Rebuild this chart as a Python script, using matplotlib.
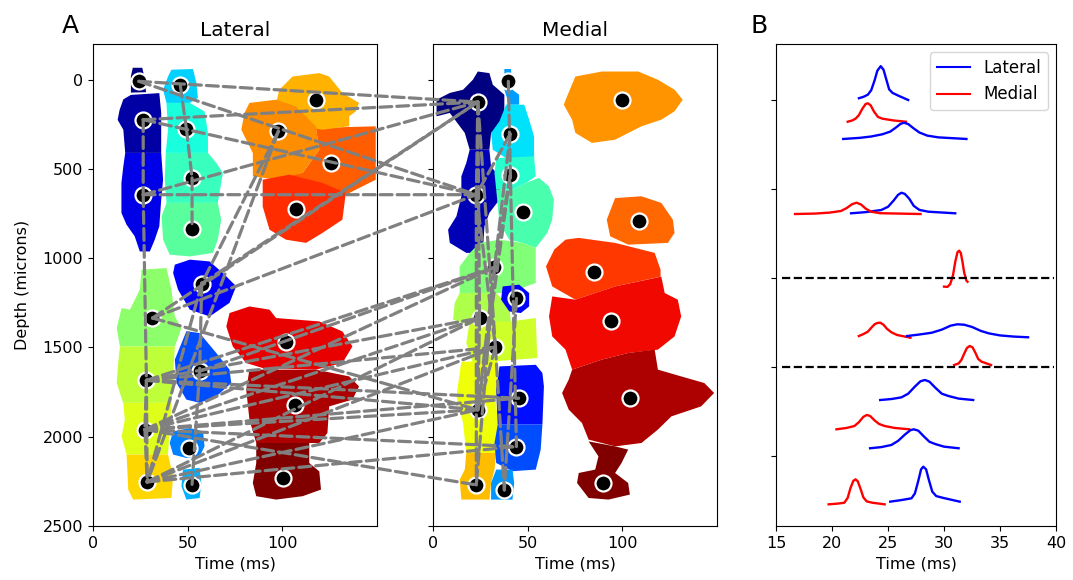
import numpy as np
import matplotlib
matplotlib.use('Agg')
import matplotlib.pyplot as plt
from matplotlib.patches import ConnectionPatch

plt.rcParams['font.size'] = 11.5

# ---- panel A: cluster dots (time ms, depth microns)
lat_x = [24.2, 26.5, 26.5, 46.1, 49.3, 52.3, 52.3, 117.7, 97.9, 125.6, 107.2,
         57.4, 31.4, 56.3, 28.2, 101.9, 106.7, 27.4, 50.5, 28.6, 52.3, 100.5]
lat_y = [9, 224, 644, 32, 274, 550, 834, 116, 289, 467, 724,
         1142, 1335, 1633, 1684, 1471, 1820, 1960, 2063, 2253, 2268, 2231]
med_x = [39.8, 23.7, 40.8, 40.8, 47.3, 22.9, 100, 108.9, 32.5, 84.8, 44.1,
         24.6, 33.0, 94.1, 104, 45.2, 23.7, 44.1, 22.9, 37.7, 89.7]
med_y = [9, 125, 304, 536, 741, 644, 116, 790, 1051, 1077, 1225,
         1335, 1498, 1349, 1784, 1784, 1849, 2055, 2270, 2298, 2257]

# cluster outlines: (jet value, x, y)
lat_blobs = [
    (0.0, [21, 26, 27, 28, 20, 20], [-67, -67, -20, 70, 72, -20]),
    (0.035, [20, 35, 36, 36, 17, 16, 13, 14, 16], [85, 75, 185, 410, 410, 280, 225, 170, 110]),
    (0.09, [17, 36, 37, 36, 35, 32.6, 30, 24.7, 22, 17.7, 15, 15, 16],
     [410, 410, 560, 672, 821, 896, 962, 962, 877, 812, 746, 578, 485]),
    (0.52, [25.6, 38.8, 41.4, 43.2, 46.7, 43.2, 14.2, 12.5, 15.1, 19.5, 24.7],
     [1064, 1055, 1176, 1326, 1391, 1494, 1494, 1391, 1279, 1288, 1176]),
    (0.58, [14.2, 43.2, 42.3, 41.4, 15.9, 12.5, 13.3], [1494, 1494, 1662, 1810, 1810, 1699, 1587]),
    (0.62, [15.9, 41.4, 40.5, 39.6, 17.7, 15.1, 16.8], [1810, 1810, 1960, 2100, 2100, 1998, 1904]),
    (0.68, [17.7, 39.6, 42.3, 41.4, 21.2, 18.6, 18.1], [2100, 2100, 2221, 2343, 2352, 2296, 2184]),
    (0.33, [41.4, 52.8, 54.6, 55.4, 51.1, 38.8, 37, 39.6], [-56, -60, 18, 102, 130, 130, 56, -18]),
    (0.38, [38.8, 51.1, 58.9, 60.7, 60.7, 38.4, 39.6], [130, 130, 178, 298, 410, 410, 280]),
    (0.42, [38.4, 60.7, 65.1, 68.6, 66.8, 65.9, 38.8, 37.9], [410, 410, 466, 522, 634, 690, 690, 560]),
    (0.46, [38.8, 65.9, 67.7, 65.9, 63.3, 51.1, 40.5, 37, 36.2],
     [690, 690, 784, 896, 970, 990, 980, 896, 765]),
    (0.12, [43.2, 51.1, 61.6, 68.6, 75.6, 72.1, 61.6, 51.1, 44.9, 42.3],
     [1036, 1008, 1018, 1083, 1157, 1250, 1326, 1288, 1176, 1083]),
    (0.2, [49.3, 56.3, 65.1, 72.1, 73, 65.1, 56.3, 49.3, 44.1, 43.2],
     [1409, 1419, 1531, 1624, 1699, 1774, 1810, 1792, 1699, 1568]),
    (0.25, [42.3, 51.1, 58.1, 58.9, 56.3, 49.3, 42.3, 40.5], [1970, 1951, 1970, 2054, 2110, 2119, 2100, 2035]),
    (0.3, [47.5, 56.3, 57.2, 56.3, 49.3, 46.7], [2184, 2174, 2259, 2343, 2352, 2278]),
    (0.81, [117.7, 149.3, 149.3, 138.8, 131.7, 112.5, 98.4, 110.7, 119.5],
     [270, 261, 560, 616, 654, 635, 541, 522, 392]),
    (0.72, [105.4, 119.5, 124.7, 131.7, 140.5, 138.8, 135.3, 135.3, 121.2, 110.7, 96.7, 98.4],
     [-18, -37, -18, 74, 130, 177, 205, 261, 280, 261, 130, 56]),
    (0.76, [82.6, 96.7, 107.2, 117.7, 119.5, 110.7, 96.7, 84.4, 84.4, 78.3, 80],
     [130, 112, 150, 261, 392, 522, 560, 541, 411, 280, 186]),
    (0.86, [89.6, 103.7, 121.2, 133.5, 131.7, 121.2, 112.5, 101.9, 93.2, 89.6],
     [560, 532, 578, 634, 784, 858, 914, 896, 840, 710]),
    (0.91, [72.1, 82.6, 93.2, 96.7, 119.5, 131.7, 137, 131.7, 117.7, 89.6, 80.9, 73.8, 70.4],
     [1307, 1270, 1288, 1335, 1354, 1410, 1494, 1587, 1624, 1615, 1587, 1494, 1382]),
    (0.96, [82.6, 117.7, 135.3, 140.5, 137, 124.7, 123.8, 119.5, 86.2, 82.6, 80.9],
     [1624, 1624, 1662, 1718, 1792, 1830, 1979, 2035, 2035, 1904, 1736]),
    (1.0, [86.2, 114.2, 114.2, 119.5, 120.4, 110.7, 96.7, 86.2, 84.4, 86.2],
     [2035, 2035, 2147, 2194, 2296, 2333, 2352, 2333, 2259, 2147]),
]

med_blobs = [
    (0.0, [23.7, 29.8, 31.6, 37.7, 37.7, 30.7, 29.8, 19.4, 16.8, 8.9, 1.9, 1.9, 8.9, 15.9, 21.1],
     [-46, -37, 28, 84, 261, 298, 392, 392, 298, 186, 205, 112, 74, 56, 0]),
    (0.047, [19.4, 29.8, 30.7, 36, 35.1, 29.8, 27.2, 26.3, 17.6, 8.9, 8, 12.4, 15, 15, 17.6],
     [392, 392, 485, 560, 672, 746, 821, 970, 970, 914, 840, 765, 653, 541, 466]),
    (0.28, [37.7, 41.2, 42, 45.5, 45.5, 40.3, 37.7], [-60, -60, 56, 84, 140, 140, 56]),
    (0.345, [38.6, 48.2, 50.8, 53.4, 53.4, 38.6, 31.6, 30.7, 35.1], [140, 140, 224, 318, 439, 439, 392, 298, 233]),
    (0.4, [33.4, 53.4, 54.3, 49.1, 42, 33.4, 32.5], [439, 429, 541, 578, 616, 616, 522]),
    (0.44, [49.1, 56, 61.3, 63.9, 63, 60.4, 54.3, 47.3, 40.3, 35.1, 33.4, 42],
     [578, 550, 598, 672, 784, 858, 942, 914, 896, 802, 616, 616]),
    (0.505, [24.6, 35.1, 47.3, 54.3, 54.3, 49.1, 42, 14.1, 14.1, 19.4],
     [914, 896, 914, 942, 1139, 1158, 1195, 1195, 1046, 971]),
    (0.56, [14.1, 33.4, 40.3, 41.2, 36.8, 21.1, 10.6, 11.5], [1195, 1195, 1270, 1363, 1391, 1382, 1344, 1251]),
    (0.6, [19.4, 41.2, 54.3, 55.1, 43.8, 21.1, 17.6], [1354, 1354, 1335, 1559, 1568, 1587, 1475]),
    (0.64, [15, 34.2, 33.4, 34.2, 33.4, 17.6, 15.9, 12.4], [1580, 1575, 1811, 1923, 2091, 2091, 1923, 1774]),
    (0.71, [17.6, 33.4, 32.5, 30.7, 29.8, 15, 14.1, 16.8], [2091, 2091, 2184, 2259, 2352, 2352, 2240, 2184]),
    (0.12, [36.8, 45.5, 50.8, 50.8, 46.4, 40.3, 36], [1158, 1148, 1195, 1270, 1307, 1298, 1232]),
    (0.14, [35.1, 54.3, 57.8, 58.6, 57.8, 34.2, 33.4], [1606, 1597, 1643, 1718, 1932, 1932, 1736]),
    (0.2, [34.2, 57.8, 56.9, 54.3, 42, 33.4, 32.5], [1932, 1932, 2072, 2184, 2193, 2147, 2035]),
    (0.27, [33.4, 42, 42.9, 42, 30.7, 30.7], [2184, 2184, 2259, 2352, 2352, 2259]),
    (0.75, [75.2, 89.2, 108.4, 118.8, 127.6, 131.9, 127.6, 120.6, 110.1, 96.2, 84, 75.2, 73.5, 69.1, 70.8],
     [-18, -46, -46, 0, 56, 112, 177, 224, 261, 336, 354, 298, 224, 140, 94]),
    (0.8, [96.2, 110.1, 120.6, 126.7, 127.6, 124.1, 103.1, 93.6, 91.8], [663, 653, 690, 784, 858, 914, 924, 877, 784]),
    (0.85, [70, 76.9, 96.2, 117.1, 120.2, 120.2, 96.2, 75.2, 63, 59.7, 64.1],
     [896, 886, 914, 970, 1064, 1103, 1158, 1232, 1158, 1046, 951]),
    (0.9, [63, 75.2, 96.2, 120.6, 122.4, 129.3, 131.1, 127.6, 118.8, 103.1, 89.2, 73.5, 70, 63, 61.3],
     [1214, 1232, 1158, 1103, 1195, 1232, 1326, 1438, 1512, 1531, 1568, 1624, 1512, 1438, 1326]),
    (0.96, [73.5, 89.2, 103.1, 117.1, 118.8, 131.1, 143.3, 148.5, 141.6, 125.9, 118.8, 110.1, 96.2, 82.2, 78.7, 71.7, 68.2, 71.7],
     [1624, 1568, 1531, 1512, 1624, 1662, 1699, 1755, 1830, 1886, 1960, 2035, 2054, 2016, 1923, 1848, 1755, 1680]),
    (1.0, [82.2, 96.2, 103.1, 99.6, 96.2, 103.1, 104, 92.7, 82.2, 76.1, 77, 85.7, 87.4],
     [2026, 2054, 2072, 2147, 2203, 2259, 2324, 2352, 2343, 2259, 2203, 2184, 2110]),
]

# connections (index pairs)
lat_lat = [(1, 2), (2, 14), (14, 17), (17, 19), (14, 19), (3, 4), (4, 5), (5, 6),
           (11, 19), (8, 11), (8, 19), (11, 13), (13, 20)]
lat_med = [(0, 1), (1, 1), (2, 1), (11, 1), (12, 1), (0, 5), (1, 5), (2, 5), (12, 5),
           (13, 8), (14, 8), (17, 8), (14, 11), (17, 11), (19, 11), (14, 12), (17, 12),
           (19, 12), (12, 16), (14, 15), (14, 16), (17, 15), (17, 16), (19, 16),
           (17, 17), (19, 17), (17, 18)]
med_med = [(1, 5), (1, 11), (1, 12), (5, 16), (5, 18), (0, 17), (2, 5), (2, 8), (3, 8),
           (5, 12), (3, 16), (8, 16), (11, 16), (12, 16), (8, 18), (10, 19), (12, 19)]

# ---- panel B: waveforms
b_lines = [
    ('blue', [22.4, 22.8, 23.2, 23.5, 23.8, 24.05, 24.35, 24.6, 24.85, 25.1, 25.4, 25.9, 26.8],
     [5.02, 5.035, 5.06, 5.11, 5.22, 5.33, 5.38, 5.34, 5.23, 5.12, 5.08, 5.05, 5.00]),
    ('red', [21.4, 21.8, 22.1, 22.4, 22.7, 23.0, 23.2, 23.45, 23.75, 24.1, 24.5, 25.5, 26.6],
     [4.756, 4.77, 4.79, 4.83, 4.9, 4.955, 4.963, 4.94, 4.87, 4.81, 4.79, 4.77, 4.756]),
    ('blue', [21.0, 22.5, 23.5, 24.5, 25.2, 25.7, 26.1, 26.4, 26.8, 27.3, 27.8, 28.5, 29.5, 32.0],
     [4.562, 4.575, 4.59, 4.615, 4.645, 4.69, 4.73, 4.745, 4.73, 4.68, 4.635, 4.6, 4.58, 4.562]),
    ('blue', [21.7, 23.0, 24.4, 25.0, 25.5, 25.9, 26.2, 26.5, 26.9, 27.3, 27.8, 28.6, 31.0],
     [3.727, 3.74, 3.764, 3.80, 3.87, 3.935, 3.958, 3.945, 3.89, 3.81, 3.765, 3.745, 3.727]),
    ('red', [16.7, 18.5, 19.8, 20.8, 21.3, 21.8, 22.2, 22.6, 23.0, 23.5, 24.3, 27.9],
     [3.719, 3.724, 3.735, 3.753, 3.785, 3.83, 3.846, 3.825, 3.78, 3.745, 3.728, 3.719]),
    ('red', [30.0, 30.3, 30.55, 30.8, 31.0, 31.2, 31.35, 31.5, 31.65, 31.8, 32.0, 32.1],
     [2.903, 2.9, 2.93, 3.03, 3.18, 3.29, 3.307, 3.28, 3.18, 3.06, 2.97, 2.958]),
    ('red', [22.4, 22.8, 23.2, 23.5, 23.8, 24.05, 24.3, 24.6, 24.9, 25.3, 25.8, 27.0],
     [2.348, 2.37, 2.397, 2.44, 2.48, 2.495, 2.498, 2.475, 2.43, 2.39, 2.36, 2.329]),
    ('blue', [26.7, 27.8, 28.9, 29.8, 30.6, 31.2, 31.8, 32.5, 33.3, 34.0, 35.0, 36.2, 37.5],
     [2.348, 2.365, 2.385, 2.42, 2.465, 2.48, 2.475, 2.45, 2.405, 2.378, 2.355, 2.342, 2.334]),
    ('red', [30.9, 31.3, 31.55, 31.8, 32.05, 32.3, 32.55, 32.8, 33.05, 33.35, 33.8, 34.2],
     [2.022, 2.04, 2.079, 2.15, 2.215, 2.236, 2.22, 2.16, 2.09, 2.06, 2.04, 2.022]),
    ('blue', [24.3, 25.3, 26.2, 26.8, 27.4, 27.9, 28.3, 28.7, 29.2, 29.8, 30.4, 31.3, 32.6],
     [1.629, 1.64, 1.659, 1.7, 1.78, 1.84, 1.854, 1.835, 1.77, 1.7, 1.674, 1.645, 1.629]),
    ('red', [20.4, 21.3, 22.0, 22.4, 22.8, 23.1, 23.4, 23.8, 24.2, 24.7, 25.6, 26.9],
     [1.3, 1.315, 1.337, 1.38, 1.44, 1.461, 1.45, 1.4, 1.36, 1.337, 1.315, 1.3]),
    ('blue', [23.4, 24.4, 25.3, 25.9, 26.5, 27.0, 27.3, 27.7, 28.2, 28.7, 29.2, 30.0, 31.3],
     [1.087, 1.1, 1.124, 1.17, 1.24, 1.29, 1.30, 1.285, 1.22, 1.16, 1.135, 1.105, 1.087]),
    ('red', [19.7, 20.5, 21.1, 21.4, 21.65, 21.9, 22.1, 22.3, 22.55, 22.8, 23.1, 23.6, 24.7],
     [0.457, 0.465, 0.475, 0.53, 0.64, 0.72, 0.738, 0.715, 0.63, 0.535, 0.49, 0.475, 0.457]),
    ('blue', [25.2, 26.2, 27.1, 27.4, 27.7, 27.95, 28.15, 28.4, 28.65, 28.95, 29.3, 29.9, 31.4],
     [0.487, 0.505, 0.525, 0.58, 0.72, 0.85, 0.88, 0.85, 0.73, 0.6, 0.55, 0.53, 0.487]),
]
b_dashed = [3, 2]

fig = plt.figure(figsize=(10.73, 5.8), dpi=100)
ax1 = fig.add_axes([0.0867, 0.0931, 0.2647, 0.831])
ax2 = fig.add_axes([0.4035, 0.0931, 0.2647, 0.831])
ax3 = fig.add_axes([0.7232, 0.0931, 0.261, 0.831])

for ax, blobs, xs, ys, title in [(ax1, lat_blobs, lat_x, lat_y, 'Lateral'),
                                 (ax2, med_blobs, med_x, med_y, 'Medial')]:
    for t, bx, by in blobs:
        ax.fill(bx, by, color=plt.cm.jet(t), lw=0, zorder=1)
    ax.plot(xs, ys, 'o', mfc='k', mec='w', ms=11.5, mew=1.6, zorder=3, ls='none')
    ax.set_xlim(0, 150)
    ax.set_ylim(2500, -200)
    ax.set_xticks([0, 50, 100])
    ax.set_title(title, fontsize=14.5)
    ax.set_xlabel('Time (ms)')
ax1.set_yticks([0, 500, 1000, 1500, 2000, 2500])
ax1.set_ylabel('Depth (microns)', labelpad=9)
ax2.set_yticks([0, 500, 1000, 1500, 2000, 2500])
ax2.set_yticklabels([])

def connect(axA, pA, axB, pB):
    con = ConnectionPatch(xyA=pA, coordsA='data', axesA=axA,
                          xyB=pB, coordsB='data', axesB=axB,
                          color='grey', lw=2.3, ls='--', zorder=5)
    fig.add_artist(con)

for i, j in lat_lat:
    connect(ax1, (lat_x[i], lat_y[i]), ax1, (lat_x[j], lat_y[j]))
for i, j in lat_med:
    connect(ax1, (lat_x[i], lat_y[i]), ax2, (med_x[j], med_y[j]))
for i, j in med_med:
    connect(ax2, (med_x[i], med_y[i]), ax2, (med_x[j], med_y[j]))

for c, bx, by in b_lines:
    ax3.plot(bx, by, color=c, lw=1.7)
for yv in b_dashed:
    ax3.plot([15.5, 39.8], [yv, yv], 'k--', lw=1.6)
ax3.plot([], [], color='blue', label='Lateral')
ax3.plot([], [], color='red', label='Medial')
ax3.legend(loc='upper right', fontsize=12)
ax3.set_xlim(15, 40)
ax3.set_ylim(0.2135, 5.629)
ax3.set_yticks([1, 2, 3, 4, 5])
ax3.set_yticklabels([])
ax3.set_xlabel('Time (ms)')

fig.text(0.058, 0.943, 'A', fontsize=18)
fig.text(0.699, 0.943, 'B', fontsize=18)

fig.savefig('out.png', dpi=100)
